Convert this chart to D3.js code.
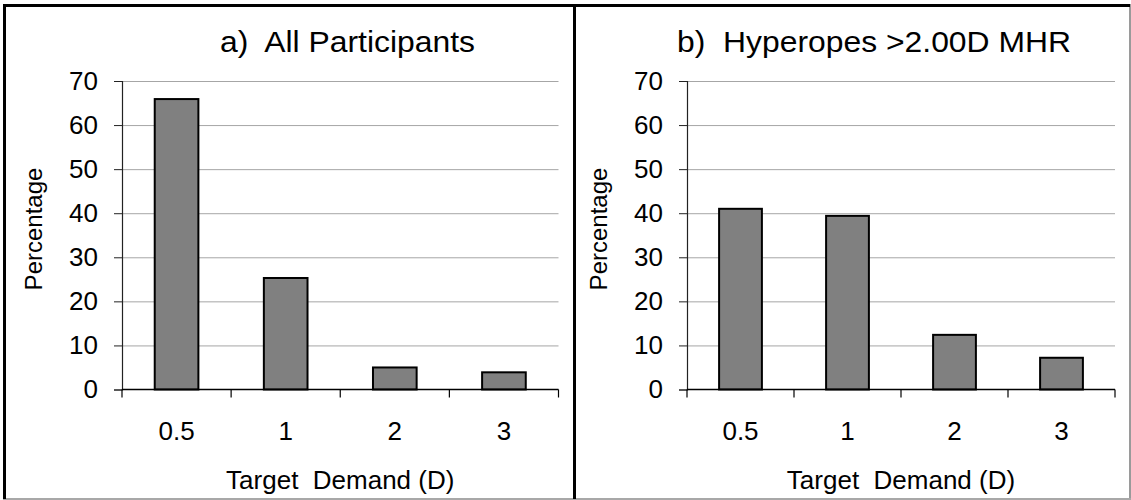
<!DOCTYPE html>
<html>
<head>
<meta charset="utf-8">
<script src="https://cdn.jsdelivr.net/npm/d3@7"></script>
<style>
  html, body { margin: 0; padding: 0; background: #fff; }
  svg { display: block; font-family: "Liberation Sans", Arial, sans-serif; }
  svg text { white-space: pre; }
</style>
</head>
<body>
<svg id="chart" width="1131" height="500"></svg>
<script>
// Target demand categories (dioptres)
const categories = ["0.5", "1", "2", "3"];
// Percentage of participants per target demand
const allParticipants = [65.9, 25.3, 5.0, 3.9];
const hyperopes = [41.0, 39.4, 12.4, 7.2];
const yTicks = [0, 10, 20, 30, 40, 50, 60, 70];
const titles = ["a)  All Participants", "b)  Hyperopes >2.00D MHR"];
const xTitle = "Target  Demand (D)";
const yTitle = "Percentage";

const svg = d3.select("#chart");

// panel frames
svg.append("line").attr("x1", 1130).attr("x2", 1130).attr("y1", 4).attr("y2", 500)
  .attr("stroke", "#9a9a9a").attr("stroke-width", 2);
svg.append("line").attr("x1", 3).attr("x2", 1131).attr("y1", 499).attr("y2", 499)
  .attr("stroke", "#a8a8a8").attr("stroke-width", 2);
svg.append("line").attr("x1", 3).attr("x2", 1130).attr("y1", 5.5).attr("y2", 5.5)
  .attr("stroke", "#000").attr("stroke-width", 3);
svg.append("line").attr("x1", 4.5).attr("x2", 4.5).attr("y1", 4).attr("y2", 499)
  .attr("stroke", "#000").attr("stroke-width", 3);
svg.append("line").attr("x1", 574.5).attr("x2", 574.5).attr("y1", 4).attr("y2", 499)
  .attr("stroke", "#000").attr("stroke-width", 3);

function drawPanel(values, title, left, right, titleX, titleWidth, yLabelX) {
  const top = 81, bottom = 389.5;
  const x = d3.scaleBand().domain(categories).range([left, right])
    .paddingInner(0.6).paddingOuter(0.3);
  const y = d3.scaleLinear().domain([0, 70]).range([bottom, top]);
  const g = svg.append("g");

  // horizontal gridlines
  g.selectAll(".grid").data(yTicks.filter(t => t > 0)).join("line")
    .attr("x1", left).attr("x2", right)
    .attr("y1", d => y(d) + 0.5).attr("y2", d => y(d) + 0.5)
    .attr("stroke", "#a6a6a6").attr("stroke-width", 1);

  // bars
  g.selectAll(".bar").data(values).join("rect")
    .attr("x", (d, i) => x(categories[i]))
    .attr("y", d => y(d))
    .attr("width", x.bandwidth())
    .attr("height", d => bottom - y(d))
    .attr("fill", "#808080").attr("stroke", "#000").attr("stroke-width", 2);

  // y axis
  const yAxis = g.append("g").attr("transform", `translate(${left},0)`)
    .call(d3.axisLeft(y).tickValues(yTicks).tickSize(8).tickPadding(16));
  yAxis.select(".domain").attr("stroke", "#222").attr("stroke-width", 1.2);
  yAxis.selectAll(".tick line").attr("stroke", "#222");
  yAxis.selectAll("text").attr("font-size", 26).attr("fill", "#000")
    .attr("font-family", "Liberation Sans, Arial, sans-serif");

  // x axis: ticks at band edges, labels centred in the bands
  const edges = categories.map(c => x(c) - x.step() * 0.3).concat([right]);
  g.append("line").attr("x1", left).attr("x2", right)
    .attr("y1", bottom).attr("y2", bottom).attr("stroke", "#000").attr("stroke-width", 1.5);
  g.selectAll(".xt").data(edges).join("line")
    .attr("x1", d => d).attr("x2", d => d)
    .attr("y1", bottom).attr("y2", bottom + 8)
    .attr("stroke", "#000").attr("stroke-width", 1.2);
  g.selectAll(".xl").data(categories).join("text")
    .attr("x", d => x(d) + x.bandwidth() / 2)
    .attr("y", 439.5)
    .attr("text-anchor", "middle").attr("font-size", 26).text(d => d);

  // titles
  g.append("text").attr("x", titleX).attr("y", 51.5).attr("text-anchor", "middle")
    .attr("font-size", 30).attr("textLength", titleWidth)
    .attr("lengthAdjust", "spacingAndGlyphs").text(title);
  g.append("text").attr("x", (left + right) / 2).attr("y", 489)
    .attr("text-anchor", "middle").attr("font-size", 26).text(xTitle);
  g.append("text")
    .attr("transform", `translate(${yLabelX},229) rotate(-90)`)
    .attr("text-anchor", "middle").attr("font-size", 24).text(yTitle);
}

drawPanel(allParticipants, titles[0], 122, 558.5, 347.5, 255, 42);
drawPanel(hyperopes, titles[1], 687, 1115, 874, 394, 607);
</script>
</body>
</html>
